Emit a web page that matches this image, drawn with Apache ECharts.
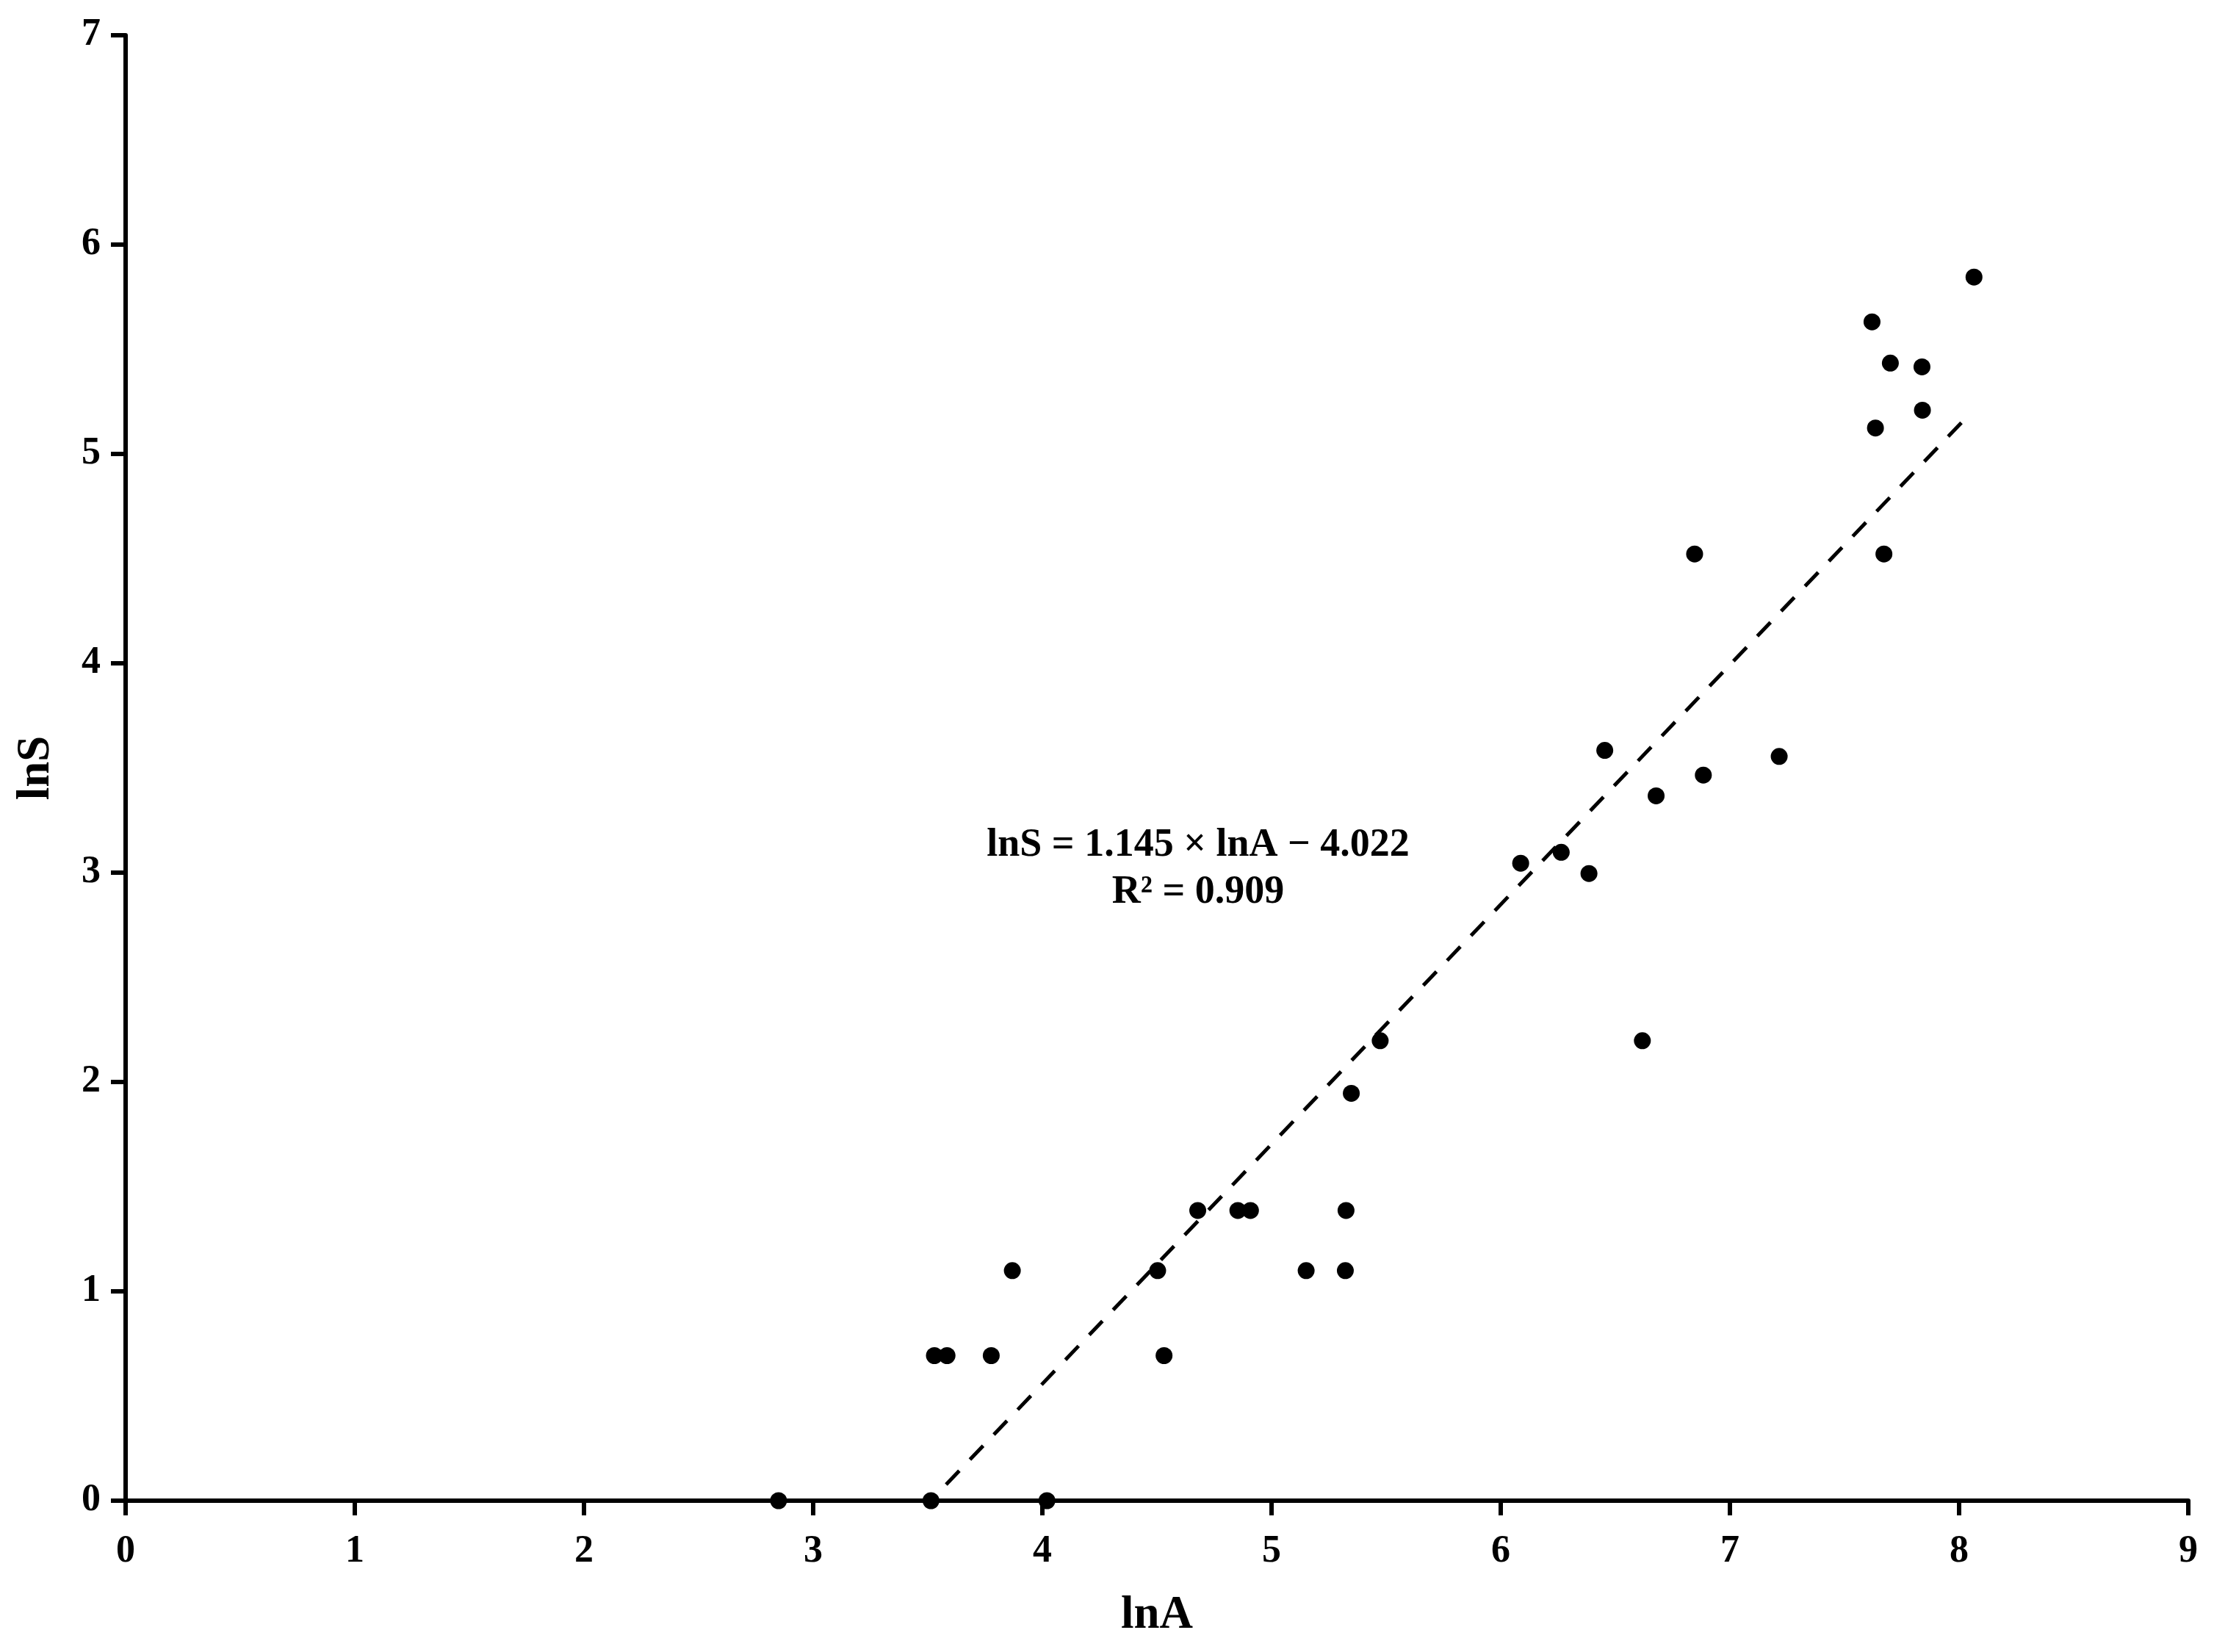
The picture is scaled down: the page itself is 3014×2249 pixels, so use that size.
<!DOCTYPE html>
<html>
<head>
<meta charset="utf-8">
<script src="https://cdn.jsdelivr.net/npm/echarts@6/dist/echarts.min.js"></script>
<style>
  html, body { margin: 0; padding: 0; background: #fff; }
  #main { width: 3014px; height: 2249px; }
</style>
</head>
<body>
<div id="main"></div>
<script>
// observed points (ln of area, ln of species count)
const lnA = [2.849, 3.514, 4.020, 3.529, 3.584, 3.777, 3.869, 4.503, 4.531, 4.678, 4.853,
    4.908, 5.151, 5.322, 5.325, 5.348, 5.474, 6.087, 6.264, 6.385, 6.454, 6.618, 6.678,
    6.846, 6.884, 7.215, 7.620, 7.635, 7.672, 7.700, 7.838, 7.840, 8.065];
const lnS = [0, 0, 0, 0.693, 0.693, 0.693, 1.099, 1.099, 0.693, 1.386, 1.386,
    1.386, 1.099, 1.099, 1.386, 1.946, 2.197, 3.045, 3.097, 2.996, 3.584, 2.197, 3.367,
    4.522, 3.466, 3.555, 5.631, 5.124, 4.522, 5.434, 5.416, 5.209, 5.845];

// fitted line
const fitSlope = 1.145;
const fitIntercept = -4.022;
const fitR2 = 0.909;
const fitRange = [3.58, 8.04];

const xTicks = [0, 9, 1];   // min, max, interval
const yTicks = [0, 7, 1];

const font = 'Liberation Serif, Times New Roman, serif';

let points = lnA.map(function (a, i) { return [a, lnS[i]]; });
let fitLine = fitRange.map(function (a) { return [a, fitSlope * a + fitIntercept]; });

let myChart = echarts.init(document.getElementById('main'));

myChart.setOption({
    backgroundColor: '#fff',
    animation: false,
    grid: {
        left: 171,
        right: 35,
        top: 48,
        bottom: 206
    },
    xAxis: {
        type: 'value',
        min: xTicks[0],
        max: xTicks[1],
        interval: xTicks[2],
        name: 'lnA',
        nameLocation: 'middle',
        nameGap: 125,
        nameTextStyle: { fontFamily: font, fontWeight: 'bold', fontSize: 63, color: '#000' },
        axisLine: { show: true, onZero: false, lineStyle: { color: '#000', width: 6 } },
        axisTick: { show: true, length: 20, lineStyle: { color: '#000', width: 6 } },
        axisLabel: { margin: 44, fontFamily: font, fontWeight: 'bold', fontSize: 52, color: '#000' },
        splitLine: { show: false }
    },
    yAxis: {
        type: 'value',
        min: yTicks[0],
        max: yTicks[1],
        interval: yTicks[2],
        name: 'lnS',
        nameLocation: 'middle',
        nameGap: 90,
        nameTextStyle: { fontFamily: font, fontWeight: 'bold', fontSize: 63, color: '#000' },
        axisLine: { show: true, onZero: false, lineStyle: { color: '#000', width: 6 } },
        axisTick: { show: true, length: 20, lineStyle: { color: '#000', width: 6 } },
        axisLabel: { margin: 34, fontFamily: font, fontWeight: 'bold', fontSize: 52, color: '#000' },
        splitLine: { show: false }
    },
    series: [
        {
            type: 'line',
            data: fitLine,
            symbol: 'none',
            silent: true,
            z: 1,
            lineStyle: { color: '#000', width: 5, type: [26, 21] }
        },
        {
            type: 'scatter',
            data: points,
            symbol: 'circle',
            symbolSize: 23,
            z: 2,
            itemStyle: { color: '#000', opacity: 1 }
        }
    ],
    graphic: [
        {
            type: 'text',
            x: 1631,
            y: 1151,
            style: {
                text: 'lnS = ' + fitSlope.toFixed(3) + ' × lnA − ' + Math.abs(fitIntercept).toFixed(3),
                fontFamily: font, fontWeight: 'bold', fontSize: 54, fill: '#000',
                align: 'center', verticalAlign: 'middle'
            }
        },
        {
            type: 'text',
            x: 1631,
            y: 1215,
            style: {
                text: 'R² = ' + fitR2.toFixed(3),
                fontFamily: font, fontWeight: 'bold', fontSize: 54, fill: '#000',
                align: 'center', verticalAlign: 'middle'
            }
        }
    ]
});

window.addEventListener('resize', function () {
    myChart.resize();
});
</script>
</body>
</html>
